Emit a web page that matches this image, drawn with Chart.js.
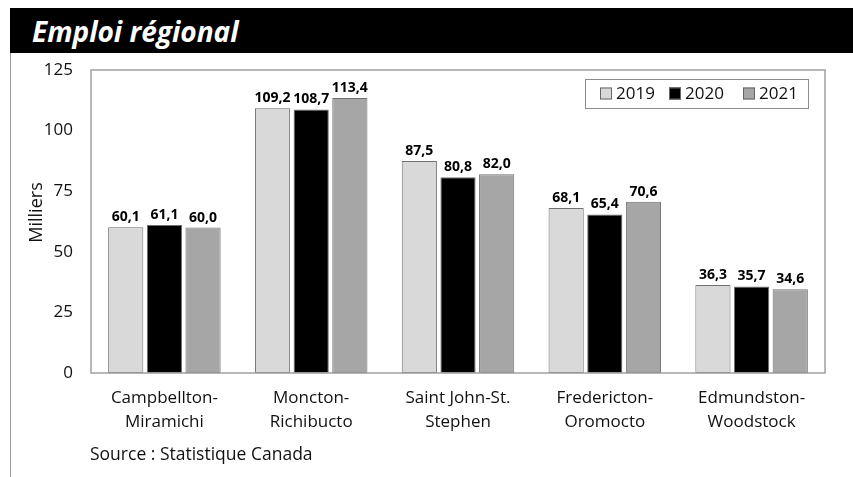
<!DOCTYPE html>
<html><head><meta charset="utf-8">
<script src="https://cdn.jsdelivr.net/npm/chart.js@4.4.0/dist/chart.umd.min.js"></script>
<style>
html,body{margin:0;padding:0;background:#fff;}
#wrap{position:relative;width:853px;height:477px;overflow:hidden;font-family:"Open Sans",sans-serif;}
#banner{position:absolute;left:10px;top:8px;width:843px;height:45px;background:#000;}
#title{position:absolute;left:22px;top:2px;color:#fff;font-weight:700;font-style:italic;font-size:28px;line-height:42px;}
#vline{position:absolute;left:10px;top:53px;width:1px;height:424px;background:#999;}
#source{position:absolute;left:90px;top:441px;font-size:17.5px;line-height:24px;color:#111;}
canvas{position:absolute;left:0;top:0;}
</style></head>
<body><div id="wrap">
<div id="banner"><div id="title">Emploi régional</div></div>
<div id="vline"></div>
<canvas id="c" width="853" height="477"></canvas>
<div id="source">Source : Statistique Canada</div>
</div>
<script>
const categories = [["Campbellton-","Miramichi"],["Moncton-","Richibucto"],["Saint John-St.","Stephen"],["Fredericton-","Oromocto"],["Edmundston-","Woodstock"]];
const seriesLabels = ["2019","2020","2021"];
const values2019 = [60.1, 109.2, 87.5, 68.1, 36.3];
const values2020 = [61.1, 108.7, 80.8, 65.4, 35.7];
const values2021 = [60.0, 113.4, 82.0, 70.6, 34.6];
const yTicks = [0, 25, 50, 75, 100, 125];
const yTitle = "Milliers";
const colors = ["#d9d9d9", "#000000", "#a6a6a6"];

const fmt = v => v.toFixed(1).replace('.', ',');

const labelPlugin = {
  id: 'valLabels',
  afterDatasetsDraw(chart) {
    const ctx = chart.ctx;
    ctx.save();
    ctx.font = 'bold 14px "Open Sans"';
    ctx.fillStyle = '#000';
    ctx.textAlign = 'center';
    ctx.textBaseline = 'bottom';
    chart.data.datasets.forEach((ds, i) => {
      chart.getDatasetMeta(i).data.forEach((bar, j) => {
        ctx.fillText(fmt(ds.data[j]), bar.x, bar.y - 3);
      });
    });
    // y axis title
    ctx.font = '18px "Open Sans"';
    ctx.fillStyle = '#111';
    ctx.textBaseline = 'middle';
    ctx.translate(37, chart.scales.y.getPixelForValue(62.5) - 9);
    ctx.rotate(-Math.PI / 2);
    ctx.fillText(yTitle, 0, 0);
    ctx.restore();
  }
};
const framePlugin = {
  id: 'frame',
  afterDraw(chart) {
    const {ctx, chartArea: a} = chart;
    ctx.save();
    ctx.strokeStyle = '#a0a0a0';
    ctx.lineWidth = 1.5;
    ctx.strokeRect(a.left, a.top, a.right - a.left, a.bottom - a.top);
    // legend
    const bx = 585, by = 79, bw = 223, bh = 29;
    ctx.fillStyle = '#fff';
    ctx.fillRect(bx, by, bw, bh);
    ctx.strokeStyle = '#8c8c8c';
    ctx.lineWidth = 1;
    ctx.strokeRect(bx + 0.5, by + 0.5, bw, bh);
    ctx.font = '17px "Open Sans"';
    ctx.textBaseline = 'middle';
    ctx.textAlign = 'left';
    const xs = [600, 669, 743];
    chart.data.datasets.forEach((ds, i) => {
      const x = xs[i], y = by + bh / 2;
      ctx.fillStyle = ds.backgroundColor;
      ctx.fillRect(x, y - 6, 12, 12);
      ctx.strokeStyle = '#666';
      ctx.strokeRect(x + 0.5, y - 5.5, 11, 11);
      ctx.fillStyle = '#111';
      ctx.fillText(ds.label, x + 16, y + 1);
    });
    ctx.restore();
  }
};

new Chart(document.getElementById('c'), {
  type: 'bar',
  data: {
    labels: categories,
    datasets: [
      {label: seriesLabels[0], data: values2019, backgroundColor: colors[0]},
      {label: seriesLabels[1], data: values2020, backgroundColor: colors[1]},
      {label: seriesLabels[2], data: values2021, backgroundColor: colors[2]}
    ].map(d => Object.assign(d, {borderColor: '#707070', borderWidth: 1, borderSkipped: false, categoryPercentage: 0.79, barPercentage: 0.91}))
  },
  options: {
    responsive: false,
    animation: false,
    layout: {padding: {left: 0, top: 70, right: 28, bottom: 0}},
    plugins: {legend: {display: false}, tooltip: {enabled: false}},
    scales: {
      x: {
        grid: {display: false, drawTicks: false},
        border: {display: false},
        ticks: {color: '#111', font: {family: '"Open Sans"', size: 17, lineHeight: 1.4}, padding: 13, maxRotation: 0},
        afterFit(s) { s.height = 104; }
      },
      y: {
        min: 0, max: 125,
        afterBuildTicks(s) { s.ticks = yTicks.map(v => ({value: v})); },
        grid: {display: false, drawTicks: false},
        border: {display: false},
        ticks: {color: '#111', font: {family: '"Open Sans"', size: 17}, padding: 18},
        afterFit(s) { s.width = 91; }
      }
    }
  },
  plugins: [labelPlugin, framePlugin]
});
</script>
</body></html>
